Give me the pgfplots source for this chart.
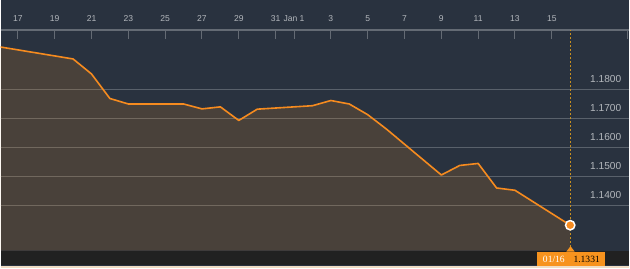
\documentclass[border=0pt]{standalone}
\usepackage{pgfplots}
\pgfplotsset{compat=1.18}
\usepackage{fontspec}
\setmainfont{Liberation Sans}
\newfontfamily\seriffont{Liberation Serif}
\definecolor{bgcol}{HTML}{29323F}
\definecolor{stripcol}{HTML}{212121}
\definecolor{creamcol}{HTML}{EFDCC4}
\definecolor{linecol}{HTML}{F68B1F}
\definecolor{fillcol}{HTML}{F39020}
\definecolor{gridcol}{HTML}{59616B}
\definecolor{tickcol}{HTML}{B3B7BC}
\definecolor{axcol}{HTML}{646B74}
\definecolor{dashcol}{HTML}{C8901F}
\definecolor{boxcol}{HTML}{F7931E}
\begin{document}
\begin{tikzpicture}
\fill[bgcol] (0,0) rectangle (630bp,269bp);
\fill[stripcol] (0,3bp) rectangle (630bp,18bp);
\fill[creamcol] (0,0) rectangle (630bp,2.5bp);
\begin{axis}[
  at={(0,18bp)}, anchor=south west,
  scale only axis, width=630bp, height=221bp,
  xmin=-0.938, xmax=33.215,
  ymin=1.12433, ymax=1.20075,
  axis x line*=top,
  axis y line*=right,
  y axis line style={draw=none},
  x axis line style={draw=axcol, line width=1.2bp},
  xtick={0,2,4,6,8,10,12,14,15,17,19,21,23,25,27,29},
  xticklabels={17,19,21,23,25,27,29,31,Jan 1,3,5,7,9,11,13,15},
  extra x ticks={33.1},
  extra x tick labels={},
  xtick align=inside,
  major tick length=9.5bp,
  xtick style={draw=axcol, line width=1bp},
  extra x tick style={xtick style={draw=axcol, line width=1bp}},
  xticklabel style={font=\fontsize{8.6}{10}\selectfont, text=tickcol, inner sep=0pt, anchor=south, yshift=8.2bp},
  ytick={1.14,1.15,1.16,1.17,1.18},
  yticklabels={1.1400,1.1500,1.1600,1.1700,1.1800},
  ytick style={draw=none},
  yticklabel style={font=\fontsize{10.2}{12}\selectfont, text=tickcol, inner sep=0pt, anchor=south east, xshift=-8bp, yshift=6.6bp},
  ymajorgrids,
  major grid style={draw=gridcol, line width=1.1bp},
]
\addplot[draw=none, fill=fillcol, fill opacity=0.16] coordinates {
(-1,1.1949) (3,1.1907) (4,1.1855) (5,1.1770) (6,1.1751) (9,1.1751) (10,1.1734) (11,1.1741) (12,1.1694) (13,1.1733) (16,1.1745) (17,1.1763) (18,1.1751) (19,1.1714) (20,1.1665) (23,1.1505) (24,1.1538) (25,1.1545) (26,1.1460) (27,1.1452) (30,1.1331)
} \closedcycle;
\addplot[draw=linecol, line width=1.6bp, line join=round] coordinates {
(-1,1.1949) (3,1.1907) (4,1.1855) (5,1.1770) (6,1.1751) (9,1.1751) (10,1.1734) (11,1.1741) (12,1.1694) (13,1.1733) (16,1.1745) (17,1.1763) (18,1.1751) (19,1.1714) (20,1.1665) (23,1.1505) (24,1.1538) (25,1.1545) (26,1.1460) (27,1.1452) (30,1.1331)
};
\addplot[draw=dashcol, line width=1bp, dash pattern=on 2bp off 2bp] coordinates {(30,1.12433) (30,1.20075)};
\addplot[only marks, mark=*, mark size=4.7bp, mark options={fill=linecol, draw=white, line width=1.5bp}] coordinates {(30,1.1331)};
\end{axis}
\fill[boxcol] (537.5bp,2.5bp) rectangle (606bp,17bp);
\fill[boxcol] (566.8bp,16.9bp) -- (571bp,22.3bp) -- (575.2bp,16.9bp) -- cycle;
\node[anchor=base, inner sep=0pt, text=white, font=\seriffont\fontsize{9.6}{11}\selectfont] at (554.3bp,5.7bp) {01/16};
\node[anchor=base, inner sep=0pt, text=black, font=\seriffont\fontsize{9.6}{11}\selectfont] at (587.2bp,5.7bp) {1.1331};
\end{tikzpicture}
\end{document}
